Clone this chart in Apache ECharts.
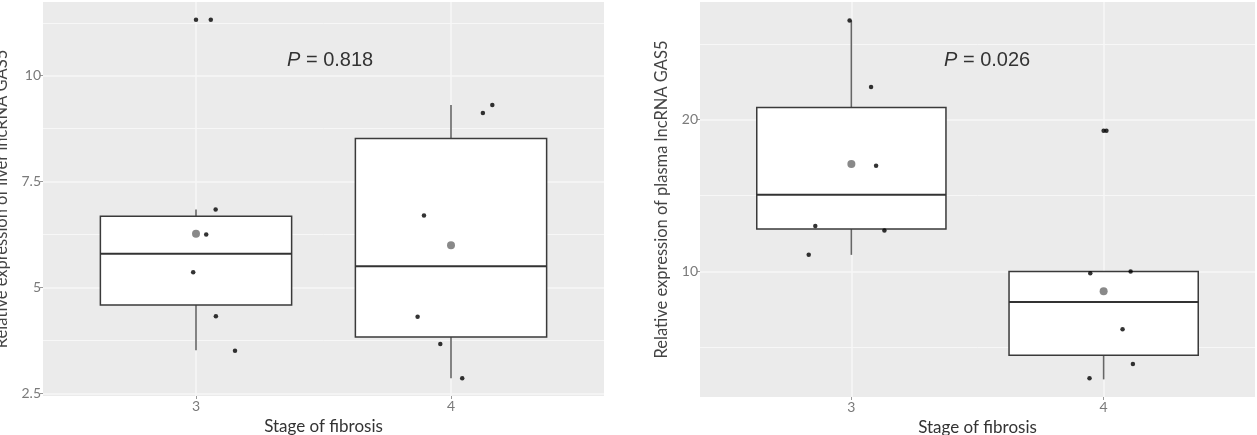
<!DOCTYPE html>
<html>
<head>
<meta charset="utf-8">
<script src="https://cdn.jsdelivr.net/npm/echarts@6/dist/echarts.min.js"></script>
<style>
  html, body { margin: 0; padding: 0; background: #fff; }
  #chart { width: 1257px; height: 435px; }
</style>
</head>
<body>
<div id="chart"></div>
<script>
// stage of fibrosis (x)
var stages = [3, 4];

// liver GAS5 - box stats per stage: [lower whisker, Q1, median, Q3, upper whisker]
var liverBox3 = [3.52, 4.59, 5.80, 6.68, 6.84];
var liverBox4 = [2.86, 3.83, 5.50, 8.52, 9.31];
var liverMean = [6.27, 6.00];
var liverOutX = [3];
var liverOutY = [11.32];
// jittered points
var liverX3 = [3.058, 3.077, 3.040, 2.989, 3.078, 3.153];
var liverY3 = [11.32, 6.84, 6.25, 5.36, 4.32, 3.51];
var liverX4 = [4.162, 4.125, 3.894, 3.869, 3.958, 4.044];
var liverY4 = [9.31, 9.12, 6.70, 4.31, 3.67, 2.86];

// plasma GAS5
var plasmaBox3 = [11.10, 12.80, 15.06, 20.80, 26.53];
var plasmaBox4 = [2.90, 4.49, 8.00, 10.00, 10.00];
var plasmaMean = [17.08, 8.70];
var plasmaOutX = [4];
var plasmaOutY = [19.27];
var plasmaX3 = [2.993, 3.078, 3.098, 2.857, 3.131, 2.831];
var plasmaY3 = [26.53, 22.16, 16.97, 13.00, 12.70, 11.10];
var plasmaX4 = [4.011, 3.947, 4.107, 4.075, 4.116, 3.944];
var plasmaY4 = [19.27, 9.89, 10.00, 6.20, 3.92, 2.97];

// axis ticks
var liverMajor = [2.5, 5, 7.5, 10];
var liverMinor = [3.75, 6.25, 8.75, 11.25];
var plasmaMajor = [10, 20];
var plasmaMinor = [5, 15, 25];

var pTexts = ['0.818', '0.026'];
var yNames = ['Relative expression of liver lncRNA GAS5', 'Relative expression of plasma lncRNA GAS5'];
var xName = 'Stage of fibrosis';

var FONT = 'Lato, "Open Sans", sans-serif';
var PFONT = '"Liberation Sans", Arial, sans-serif';

function pairs(xs, ys) {
  return xs.map(function (x, i) { return [x, ys[i]]; });
}

function boxItem(x, b) {
  return [x, b[0], b[1], b[2], b[3], b[4]];
}

function renderBox(params, api) {
  var x = api.value(0);
  var lo = api.coord([x, api.value(1)]);
  var q1 = api.coord([x, api.value(2)]);
  var md = api.coord([x, api.value(3)]);
  var q3 = api.coord([x, api.value(4)]);
  var hi = api.coord([x, api.value(5)]);
  var hw = api.size([0.75, 0])[0] / 2;
  return {
    type: 'group',
    children: [
      { type: 'line', shape: { x1: hi[0], y1: hi[1], x2: q3[0], y2: q3[1] }, style: { stroke: '#666', lineWidth: 1.6 } },
      { type: 'line', shape: { x1: q1[0], y1: q1[1], x2: lo[0], y2: lo[1] }, style: { stroke: '#666', lineWidth: 1.6 } },
      { type: 'rect', shape: { x: q3[0] - hw, y: q3[1], width: hw * 2, height: q1[1] - q3[1] },
        style: { fill: '#fff', stroke: '#3a3a3a', lineWidth: 1.5 } },
      { type: 'line', shape: { x1: md[0] - hw, y1: md[1], x2: md[0] + hw, y2: md[1] }, style: { stroke: '#333', lineWidth: 2 } }
    ]
  };
}

function gridLines(major, minor, xs) {
  var d = [];
  major.forEach(function (v) { d.push({ yAxis: v, lineStyle: { width: 1.6 } }); });
  minor.forEach(function (v) { d.push({ yAxis: v, lineStyle: { width: 1 } }); });
  xs.forEach(function (v) { d.push({ xAxis: v, lineStyle: { width: 1.6 } }); });
  return {
    silent: true, symbol: 'none', z: 1,
    label: { show: false },
    lineStyle: { color: '#f7f7f7', type: 'solid' },
    data: d
  };
}

function panelSeries(idx, box3, box4, mean, outX, outY, x3, y3, x4, y4, major, minor) {
  return [
    {
      type: 'custom', xAxisIndex: idx, yAxisIndex: idx, z: 2,
      renderItem: renderBox,
      data: [boxItem(stages[0], box3), boxItem(stages[1], box4)],
      markLine: gridLines(major, minor, stages)
    },
    {
      type: 'scatter', xAxisIndex: idx, yAxisIndex: idx, z: 3,
      symbolSize: 8, itemStyle: { color: '#6b6b6b' },
      data: pairs(stages, mean)
    },
    {
      type: 'scatter', xAxisIndex: idx, yAxisIndex: idx, z: 4,
      symbolSize: 4.5, itemStyle: { color: '#000' },
      data: pairs(outX, outY).concat(pairs(x3, y3), pairs(x4, y4))
    }
  ];
}

function xAxisOf(idx) {
  return {
    type: 'value', gridIndex: idx, min: 2.4, max: 4.6,
    name: xName, nameLocation: 'middle', nameGap: 20,
    nameTextStyle: { fontFamily: FONT, fontSize: 17, color: '#333' },
    axisLine: { show: false },
    axisTick: { show: true, customValues: stages, length: 3, lineStyle: { color: '#999' } },
    axisLabel: { customValues: stages, margin: 3, fontFamily: FONT, fontSize: 14, color: '#7a7a7a' },
    splitLine: { show: false }
  };
}

function yAxisOf(idx, min, max, major, gap) {
  return {
    type: 'value', gridIndex: idx, min: min, max: max,
    name: yNames[idx], nameLocation: 'middle', nameGap: gap, nameRotate: 90,
    nameTextStyle: { fontFamily: FONT, fontSize: 16.5, color: '#444' },
    axisLine: { show: false },
    axisTick: { show: true, customValues: major, length: 3, lineStyle: { color: '#999' } },
    axisLabel: { customValues: major, margin: 2, fontFamily: FONT, fontSize: 14, color: '#7a7a7a' },
    splitLine: { show: false }
  };
}

function pTitle(i, left) {
  return {
    text: '{i|P} = ' + pTexts[i], left: left, top: 50, padding: 0,
    textStyle: { fontFamily: PFONT, fontSize: 20, fontWeight: 'normal', color: '#333',
      rich: { i: { fontStyle: 'italic', fontFamily: PFONT, fontSize: 20, color: '#333' } } }
  };
}

var chart = echarts.init(document.getElementById('chart'));

var option = {
  backgroundColor: '#fff',
  animation: false,
  title: [pTitle(0, 287), pTitle(1, 944)],
  grid: [
    { left: 43, top: 2, width: 561, height: 394, show: true, backgroundColor: '#ebebeb', borderWidth: 0,
      containLabel: false, outerBoundsMode: 'none' },
    { left: 700, top: 2, width: 555, height: 395, show: true, backgroundColor: '#ebebeb', borderWidth: 0,
      containLabel: false, outerBoundsMode: 'none' }
  ],
  xAxis: [xAxisOf(0), xAxisOf(1)],
  yAxis: [
    yAxisOf(0, 2.44, 11.74, liverMajor, 33),
    yAxisOf(1, 1.74, 27.75, plasmaMajor, 30)
  ],
  series: panelSeries(0, liverBox3, liverBox4, liverMean, liverOutX, liverOutY,
                      liverX3, liverY3, liverX4, liverY4, liverMajor, liverMinor)
    .concat(panelSeries(1, plasmaBox3, plasmaBox4, plasmaMean, plasmaOutX, plasmaOutY,
                        plasmaX3, plasmaY3, plasmaX4, plasmaY4, plasmaMajor, plasmaMinor))
};

chart.setOption(option);
</script>
</body>
</html>
